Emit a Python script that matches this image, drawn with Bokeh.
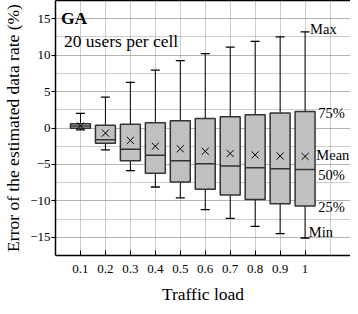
from bokeh.plotting import figure
from bokeh.models import (Range1d, FixedTicker, SingleIntervalTicker, Label, LinearAxis,
                          ColumnDataSource)
from bokeh.embed import file_html
from bokeh.resources import INLINE

loads = ["0.1", "0.2", "0.3", "0.4", "0.5", "0.6", "0.7", "0.8", "0.9", "1"]
max_v = [2.0, 4.25, 6.25, 7.95, 9.25, 10.2, 11.1, 11.9, 12.5, 13.2]
q3_v = [0.6, 0.37, 0.5, 0.73, 1.0, 1.3, 1.55, 1.83, 2.05, 2.25]
med_v = [0.27, -1.6, -2.9, -3.75, -4.5, -4.9, -5.2, -5.45, -5.6, -5.7]
q1_v = [-0.05, -2.1, -4.5, -6.2, -7.4, -8.4, -9.2, -9.8, -10.4, -10.7]
min_v = [-0.25, -3.0, -5.85, -8.1, -9.6, -11.2, -12.4, -13.5, -14.5, -15.1]
mean_v = [0.3, -0.7, -1.7, -2.5, -2.85, -3.2, -3.5, -3.7, -3.85, -3.9]

ann_text = ["Max", "75%", "Mean", "50%", "25%", "Min"]
ann_x = [10.2, 10.53, 10.45, 10.53, 10.53, 10.15]
ann_y = [13.6, 2.1, -3.7, -6.4, -10.8, -14.3]

FONT = "Liberation Serif"
pos = list(range(1, len(loads) + 1))
bw = 0.8

src = ColumnDataSource(dict(
    x=pos, x0=[p - bw / 2 for p in pos], x1=[p + bw / 2 for p in pos],
    mx=max_v, q3=q3_v, med=med_v, q1=q1_v, mn=min_v, mean=mean_v))

p = figure(width=350, height=306, output_backend="svg", toolbar_location=None,
           x_range=Range1d(0, 11.82), y_range=Range1d(-17.5, 17.5),
           min_border_left=48, min_border_right=0, min_border_top=0, min_border_bottom=0)
p.outline_line_color = None
p.background_fill_color = "white"

# axes
p.xaxis.ticker = FixedTicker(ticks=pos)
p.xaxis.major_label_overrides = {pp: lab for pp, lab in zip(pos, loads)}
p.xaxis.axis_label = "Traffic load"
p.yaxis.ticker = SingleIntervalTicker(interval=5, num_minor_ticks=2)
p.yaxis.axis_label = "Error of the estimated data rate (%)"
for ax in (p.xaxis[0], p.yaxis[0]):
    ax.axis_line_color = "black"
    ax.axis_line_width = 1.5
    ax.major_tick_line_color = "black"
    ax.minor_tick_line_color = None
    ax.major_label_text_font = FONT
    ax.major_label_text_font_size = "13px"
    ax.major_label_text_color = "black"
    ax.axis_label_text_font = FONT
    ax.axis_label_text_font_style = "normal"
    ax.axis_label_text_font_size = "17.5px"
    ax.axis_label_text_color = "black"
p.xaxis.major_tick_in = 5
p.xaxis.major_tick_out = 0
p.xaxis.major_label_standoff = 9
p.xaxis.axis_label_standoff = 8
p.yaxis.major_tick_in = 0
p.yaxis.major_tick_out = 4
p.yaxis.major_label_standoff = 1
p.yaxis.axis_label_standoff = 4

top_axis = LinearAxis(ticker=FixedTicker(ticks=[]), major_label_text_font_size="0px",
                      major_tick_line_color=None, minor_tick_line_color=None,
                      axis_line_color="black", axis_line_width=1.5,
                      major_label_standoff=0)
p.add_layout(top_axis, "above")

# grid
p.xgrid.ticker = FixedTicker(ticks=pos + [len(pos) + 1])
for g in (p.xgrid[0], p.ygrid[0]):
    g.grid_line_color = "#9a9a9a"
    g.grid_line_dash = "1 1"
    g.grid_line_width = 1
p.ygrid.minor_grid_line_color = "#9a9a9a"
p.ygrid.minor_grid_line_dash = "1 1"

# whiskers
p.segment(x0="x", y0="q3", x1="x", y1="mx", source=src, line_color="black", line_width=1)
p.segment(x0="x", y0="q1", x1="x", y1="mn", source=src, line_color="black", line_width=1)
p.scatter(x="x", y="mx", source=src, marker="dash", size=9, line_color="black", line_width=1.3)
p.scatter(x="x", y="mn", source=src, marker="dash", size=9, line_color="black", line_width=1.3)

# boxes
p.vbar(x="x", width=bw, top="q3", bottom="q1", source=src,
       fill_color="#c0c0c0", line_color="#333333", line_width=1.5)
p.segment(x0="x0", y0="med", x1="x1", y1="med", source=src, line_color="#333333", line_width=1.5)
p.scatter(x="x", y="mean", source=src, marker="x", size=10, line_color="black", line_width=1)

# texts
p.add_layout(Label(x=0.22, y=15.1, text="GA", text_font=FONT, text_font_style="bold",
                   text_font_size="17.5px", text_baseline="middle", text_color="black"))
p.add_layout(Label(x=0.34, y=11.9, text="20 users per cell", text_font=FONT,
                   text_font_size="17.5px", text_baseline="middle", text_color="black"))
for t, xx, yy in zip(ann_text, ann_x, ann_y):
    p.add_layout(Label(x=xx, y=yy, text=t, text_font=FONT, text_font_size="14.5px",
                       text_baseline="middle", text_color="black"))

open("out.html", "w").write(file_html(p, INLINE))
